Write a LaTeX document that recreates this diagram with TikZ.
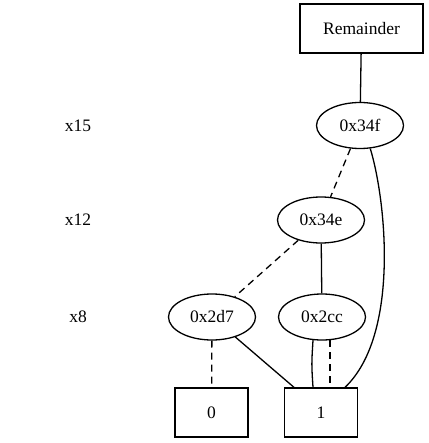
\documentclass[tikz,border=0pt]{standalone}
\usepackage{fontspec}
\setmainfont{Liberation Serif}
\usetikzlibrary{shapes.geometric}
\begin{document}
\begin{tikzpicture}[x=1pt,y=1pt,
    lbl/.style={font=\fontsize{17.5}{21}\selectfont},
    bdd/.style={ellipse,draw,line width=1.3pt,minimum width=87pt,minimum height=46pt,inner sep=0pt,lbl},
    leaf/.style={rectangle,draw,line width=1.3pt,minimum width=73pt,minimum height=49pt,inner sep=0pt,lbl},
    hi/.style={line width=1.3pt},
    lo/.style={line width=1.3pt,dash pattern=on 7pt off 5pt}]
    \useasboundingbox (0,-443) rectangle (428,0);
    \node[lbl] (v15) at (78,-125.5) {x15};
    \node[lbl] (v12) at (78,-220) {x12};
    \node[lbl] (v8) at (78,-317) {x8};
    \node[leaf,minimum width=123pt] (rem) at (361.5,-28.5) {Remainder};
    \node[bdd] (n34f) at (360,-125.5) {0x34f};
    \node[bdd] (n34e) at (321,-220) {0x34e};
    \node[bdd] (n2d7) at (212,-317) {0x2d7};
    \node[bdd] (n2cc) at (322,-317) {0x2cc};
    \node[leaf] (zero) at (211.5,-412.5) {0};
    \node[leaf] (one) at (321,-412.5) {1};
    \draw[hi] (rem) -- (n34f);
    \draw[lo] (n34f) -- (n34e);
    \draw[hi] (n34f.-66) .. controls (386,-200) and (400,-335) .. ([xshift=24pt]one.north);
    \draw[lo] (n34e) -- (n2d7);
    \draw[hi] (n34e) -- (n2cc);
    \draw[lo] (n2d7) -- (zero);
    \draw[hi] (n2d7) -- ([xshift=-27pt]one.north);
    \draw[hi] ([xshift=-9pt,yshift=0.5pt]n2cc.south) .. controls +(-1.5,-24) .. ([xshift=-8pt]one.north);
    \draw[lo] ([xshift=8pt,yshift=0.5pt]n2cc.south) -- ([xshift=9pt]one.north);
\end{tikzpicture}
\end{document}
